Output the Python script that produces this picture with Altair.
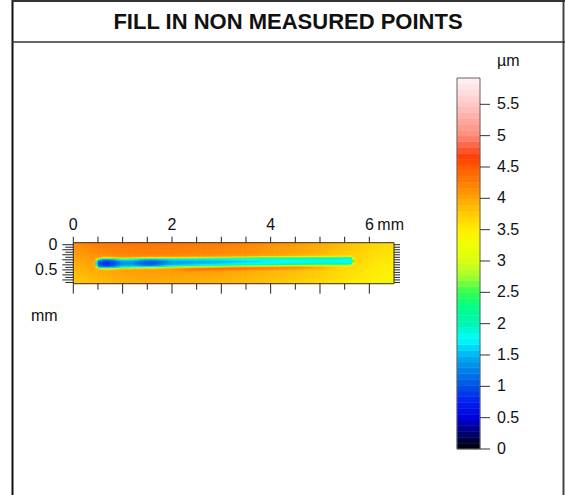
import numpy as np
import pandas as pd
import altair as alt

FONT = "Liberation Sans"

# ---------------- data ----------------
title_text = "FILL IN NON MEASURED POINTS"

# surface extent (mm)
x_extent = [0.0, 6.5]
y_extent = [-0.04, 0.775]

# background height along x (µm) at the top and bottom edges of the map
bg_x = [0.0, 0.5, 1.0, 1.5, 2.0, 2.5, 3.0, 3.5, 4.0, 4.5, 5.0, 5.5, 6.0, 6.5]
bg_top = [4.15, 4.28, 4.32, 4.33, 4.32, 4.3, 4.27, 4.22, 4.15, 4.08, 3.98, 3.85, 3.72, 3.62]
bg_bot = [3.75, 3.85, 3.92, 3.95, 3.95, 3.93, 3.9, 3.86, 3.8, 3.74, 3.66, 3.55, 3.46, 3.38]

# groove (scratch) along x: depth (µm), centre line (mm), half width (mm)
g_x = [0.55, 0.65, 0.8, 1.0, 1.2, 1.4, 1.6, 1.8, 2.0, 2.5, 3.0, 3.5, 4.0, 4.5, 5.0, 5.3, 5.6]
g_depth = [0.9, 0.72, 0.85, 1.3, 1.3, 1.05, 0.95, 1.15, 1.35, 1.42, 1.5, 1.6, 1.68, 1.75, 1.8, 1.78, 1.72]
g_center = [0.38, 0.38, 0.38, 0.378, 0.375, 0.372, 0.37, 0.366, 0.362, 0.356, 0.35, 0.345, 0.34, 0.336, 0.333, 0.332, 0.33]
g_halfw = [0.1, 0.11, 0.105, 0.1, 0.1, 0.1, 0.1, 0.098, 0.096, 0.094, 0.092, 0.09, 0.09, 0.088, 0.088, 0.088, 0.088]

# groove cross-section: share of depth vs normalised distance from centre line
prof_d = [0.0, 0.5, 0.75, 0.9, 1.0, 1.1, 1.25, 1.5]
prof_w = [1.0, 0.93, 0.78, 0.52, 0.3, 0.12, 0.03, 0.0]

# small pile-up ridge just below the groove
ridge_x = [2.0, 2.5, 3.5, 4.5, 5.0, 5.3]
ridge_amp = [0.0, 0.35, 0.4, 0.35, 0.2, 0.0]
ridge_d = [1.0, 1.3, 1.5, 1.8, 2.1]
ridge_w = [0.0, 0.6, 1.0, 0.4, 0.0]

# axis ticks / labels
x_major = [0, 2, 4, 6]
x_ticks = [0, 0.5, 1, 1.5, 2, 2.5, 3, 3.5, 4, 4.5, 5, 5.5, 6]
y_labels = [0, 0.5]
y_ticks = [0, 0.05, 0.1, 0.15, 0.2, 0.25, 0.3, 0.35, 0.4, 0.45, 0.5, 0.55, 0.6, 0.65, 0.7, 0.75]

# colour bar
cb_range = [0.0, 5.92]
cb_ticks = [0, 0.5, 1, 1.5, 2, 2.5, 3, 3.5, 4, 4.5, 5, 5.5]
cb_labels = ["0", "0.5", "1", "1.5", "2", "2.5", "3", "3.5", "4", "4.5", "5", "5.5"]
cs_val = [0, 0.25, 0.5, 0.75, 1.0, 1.25, 1.5, 1.75, 2.0, 2.25, 2.5, 2.75, 3.0, 3.25,
          3.5, 3.75, 4.0, 4.25, 4.5, 4.65, 4.8, 5.0, 5.25, 5.5, 5.92]
cs_col = ["#000000", "#00006e", "#0000dc", "#0020f0", "#0050e6", "#0080e6", "#00b4f0",
          "#00ffff", "#00f5b4", "#00ff8c", "#30ff50", "#a0ff30", "#d8ff10", "#f0ff00",
          "#ffee00", "#ffcc00", "#ffa500", "#ff7d00", "#ff5a00", "#ff3c00", "#ff5a38",
          "#ff8c78", "#ffa8a0", "#ffc8c8", "#fff4f4"]

# ---------------- build the height map cells ----------------
xe = np.linspace(x_extent[0], x_extent[1], 131)
ye = np.linspace(y_extent[0], y_extent[1], 42)
xc = (xe[:-1] + xe[1:]) / 2
yc = (ye[:-1] + ye[1:]) / 2
XX, YY = np.meshgrid(xc, yc)
X0, Y0 = np.meshgrid(xe[:-1], ye[:-1])
X1, Y1 = np.meshgrid(xe[1:], ye[1:])

t = (YY - y_extent[0]) / (y_extent[1] - y_extent[0])
top = np.interp(XX, bg_x, bg_top)
bot = np.interp(XX, bg_x, bg_bot)
bg = top + (bot - top) * t

xcl = np.clip(XX, g_x[0], g_x[-1])
depth = np.interp(xcl, g_x, g_depth)
cen = np.interp(xcl, g_x, g_center)
hw = np.interp(xcl, g_x, g_halfw)
dist = np.sqrt((XX - xcl) ** 2 + (YY - cen) ** 2) / hw
w = np.interp(dist, prof_d, prof_w)
val = bg - w * (bg - depth)
ridge = np.interp(XX, ridge_x, ridge_amp) * np.interp(dist, ridge_d, ridge_w)
val = val + np.where(YY > cen, ridge, 0.0)

heat_df = pd.DataFrame({
    "x0": X0.ravel(), "x1": X1.ravel(), "y0": Y0.ravel(), "y1": Y1.ravel(),
    "v": np.round(val.ravel(), 3),
})

# ---------------- scales ----------------
xsc = alt.Scale(domain=x_extent, range=[73.3, 394], nice=False, zero=False)
ysc = alt.Scale(domain=y_extent, range=[242.7, 283.7], nice=False, zero=False)
cbsc = alt.Scale(domain=cb_range, range=[449, 78], nice=False, zero=False)
csc = alt.Scale(domain=cs_val, range=cs_col, interpolate="rgb", clamp=True)

X = lambda f: alt.X(f, type="quantitative", scale=xsc, axis=None)
Y = lambda f: alt.Y(f, type="quantitative", scale=ysc, axis=None)

heat = alt.Chart(heat_df).mark_rect(strokeWidth=0.6).encode(
    x=X("x0"), x2="x1", y=Y("y0"), y2="y1",
    fill=alt.Fill("v:Q", scale=csc, legend=None),
    stroke=alt.Stroke("v:Q", scale=csc, legend=None),
)

box_df = pd.DataFrame({"x0": [x_extent[0]], "x1": [x_extent[1]],
                       "y0": [y_extent[0]], "y1": [y_extent[1]]})
heat_box = alt.Chart(box_df).mark_rect(fill=None, stroke="#333333", strokeWidth=1).encode(
    x=X("x0"), x2="x1", y=Y("y0"), y2="y1")

xt_df = pd.DataFrame({"x": x_ticks, "top": y_extent[0], "bot": y_extent[1],
                      "major": [float(v).is_integer() for v in x_ticks]})
top_ticks = alt.Chart(xt_df).mark_rule(color="#222", y2Offset=-6).encode(
    x=X("x"), y=Y("top"), y2="top")
bot_major = alt.Chart(xt_df[xt_df.major]).mark_rule(color="#222", y2Offset=10).encode(
    x=X("x"), y=Y("bot"), y2="bot")
bot_minor = alt.Chart(xt_df[~xt_df.major]).mark_rule(color="#222", y2Offset=6).encode(
    x=X("x"), y=Y("bot"), y2="bot")

yt_df = pd.DataFrame({"y": y_ticks, "left": x_extent[0], "right": x_extent[1],
                      "long": [i % 2 == 0 for i in range(len(y_ticks))]})
left_long = alt.Chart(yt_df[yt_df.long]).mark_rule(color="#222", x2Offset=-11).encode(
    x=X("left"), x2="left", y=Y("y"))
left_short = alt.Chart(yt_df[~yt_df.long]).mark_rule(color="#222", x2Offset=-8).encode(
    x=X("left"), x2="left", y=Y("y"))
right_ticks = alt.Chart(yt_df).mark_rule(color="#222", x2Offset=6).encode(
    x=X("right"), x2="right", y=Y("y"))

LBL = 16
xl_df = pd.DataFrame({"x": x_major, "y": y_extent[0], "t": [str(v) for v in x_major]})
x_labels = alt.Chart(xl_df).mark_text(font=FONT, fontSize=LBL, color="#111",
                                      baseline="middle", align="center", dy=-18).encode(
    x=X("x"), y=Y("y"), text="t:N")
mm_top = alt.Chart(pd.DataFrame({"x": [x_major[-1]], "y": [y_extent[0]]})).mark_text(
    font=FONT, fontSize=LBL, color="#111", baseline="middle", align="left", dx=8, dy=-18,
    text="mm").encode(x=X("x"), y=Y("y"))

yl_df = pd.DataFrame({"x": x_extent[0], "y": y_labels, "t": [str(v) for v in y_labels]})
y_lab = alt.Chart(yl_df).mark_text(font=FONT, fontSize=LBL, color="#111",
                                   baseline="middle", align="right", dx=-16).encode(
    x=X("x"), y=Y("y"), text="t:N")
mm_left = alt.Chart(pd.DataFrame({"x": [x_extent[0]], "y": [y_extent[1]]})).mark_text(
    font=FONT, fontSize=LBL, color="#111", baseline="middle", align="center", dx=-29, dy=32,
    text="mm").encode(x=X("x"), y=Y("y"))

heat_group = alt.layer(heat, heat_box, top_ticks, bot_major, bot_minor, left_long,
                       left_short, right_ticks, x_labels, mm_top, y_lab, mm_left)

# ---------------- colour bar ----------------
edges = np.linspace(cb_range[0], cb_range[1], 65)
cb_df = pd.DataFrame({"lo": edges[:-1], "hi": edges[1:],
                      "mid": (edges[:-1] + edges[1:]) / 2})
CBY = lambda f: alt.Y(f, type="quantitative", scale=cbsc, axis=None)
cb_rects = alt.Chart(cb_df).mark_rect(strokeWidth=0.5).encode(
    x=alt.value(457), x2=alt.value(480), y=CBY("lo"), y2="hi",
    fill=alt.Fill("mid:Q", scale=csc, legend=None),
    stroke=alt.Stroke("mid:Q", scale=csc, legend=None))
cb_box = alt.Chart(pd.DataFrame({"lo": [cb_range[0]], "hi": [cb_range[1]]})).mark_rect(
    fill=None, stroke="#666666", strokeWidth=1).encode(
    x=alt.value(457), x2=alt.value(480), y=CBY("lo"), y2="hi")
cbt_df = pd.DataFrame({"v": cb_ticks, "t": cb_labels})
cb_tick = alt.Chart(cbt_df).mark_rule(color="#333").encode(
    x=alt.value(480), x2=alt.value(490), y=CBY("v"))
cb_lab = alt.Chart(cbt_df).mark_text(font=FONT, fontSize=LBL, color="#111",
                                     align="left", baseline="middle").encode(
    x=alt.value(497), y=CBY("v"), text="t:N")
cb_group = alt.layer(cb_rects, cb_box, cb_tick, cb_lab)

# ---------------- frame and title ----------------
one = pd.DataFrame({"a": [0]})
unit_text = alt.Chart(one).mark_text(font=FONT, fontSize=LBL, color="#111", align="left",
                                     baseline="middle", text="µm").encode(
    x=alt.value(497), y=alt.value(61))
title = alt.Chart(one).mark_text(font=FONT, fontSize=22, fontWeight="bold", color="#111",
                                 align="center", baseline="middle", text=title_text).encode(
    x=alt.value(288), y=alt.value(22))
frame_left = alt.Chart(one).mark_rule(color="#111", strokeWidth=2).encode(
    x=alt.value(12.5), y=alt.value(0), y2=alt.value(495))
frame_right = alt.Chart(one).mark_rule(color="#444", strokeWidth=2).encode(
    x=alt.value(563.5), y=alt.value(0), y2=alt.value(495))
frame_top = alt.Chart(one).mark_rule(color="#333", strokeWidth=2).encode(
    x=alt.value(12), x2=alt.value(565), y=alt.value(1))
frame_sep = alt.Chart(one).mark_rule(color="#333", strokeWidth=1.5).encode(
    x=alt.value(12), x2=alt.value(565), y=alt.value(42))

chart = alt.layer(
    frame_left, frame_right, frame_top, frame_sep, title, unit_text, heat_group, cb_group
).resolve_scale(x="independent", y="independent").properties(
    width=565, height=495, padding=0, autosize="none"
).configure_view(stroke=None)

chart.save("out.html", embed_options={"renderer": "svg", "actions": False})
